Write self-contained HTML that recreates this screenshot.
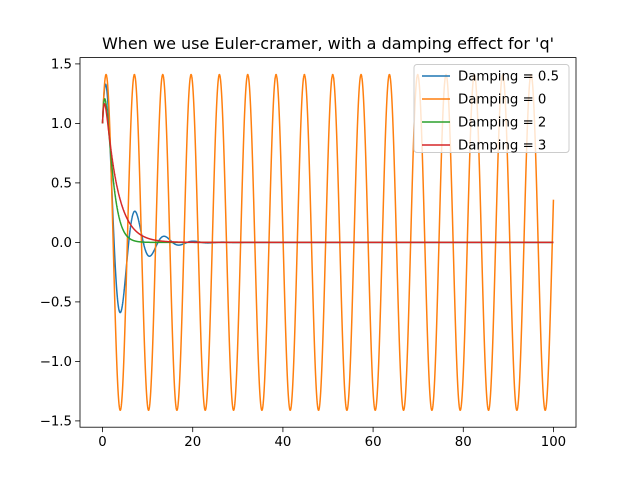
<!DOCTYPE html>
<html><head><meta charset="utf-8"><style>
body{margin:0;background:#fff}
svg{display:block;font-family:"DejaVu Sans","Liberation Sans",sans-serif}
</style></head><body>
<svg id="chart" width="640" height="480" viewBox="0 0 640 480">
<rect x="0" y="0" width="640" height="480" fill="#fff"/>
<text x="328" y="49" text-anchor="middle" font-size="16">When we use Euler-cramer, with a damping effect for 'q'</text>
<g id="series"></g>
<g id="axes"></g>
<rect x="80" y="57.6" width="496" height="369.6" fill="none" stroke="#000" stroke-width="0.8"/>
<g id="legend"></g>
</svg>
<script>
// data (series parameters of the Euler-Cromer simulation)
const dampings = [0.5, 0, 2, 3];
const seriesLabels = ["Damping = 0.5", "Damping = 0", "Damping = 2", "Damping = 3"];
const colors = ["#1f77b4", "#ff7f0e", "#2ca02c", "#d62728"];
const q0 = 1, v0 = 1, dt = 0.01, tEnd = 100;
const xTicks = [0, 20, 40, 60, 80, 100];
const yTicks = [-1.5, -1.0, -0.5, 0.0, 0.5, 1.0, 1.5];
const yTickLabels = ["\u22121.5", "\u22121.0", "\u22120.5", "0.0", "0.5", "1.0", "1.5"];

const NS = "http://www.w3.org/2000/svg";
const L = 80, R = 576, T = 57.6, B = 427.2;
const xMin = -5, xMax = 105, yMin = -1.553, yMax = 1.553;
const xs = v => L + (v - xMin) / (xMax - xMin) * (R - L);
const ys = v => B - (v - yMin) / (yMax - yMin) * (B - T);
function mk(tag, attrs, parent) { const e = document.createElementNS(NS, tag); for (const k in attrs) e.setAttribute(k, attrs[k]); parent.appendChild(e); return e; }

const sg = document.getElementById("series");
dampings.forEach((b, i) => {
  let q = q0, v = v0, t = 0;
  let d = "M" + xs(t).toFixed(2) + "," + ys(q).toFixed(2);
  const n = Math.round(tEnd / dt);
  for (let k = 0; k < n; k++) {
    v += (-q - b * v) * dt;
    q += v * dt;
    t += dt;
    d += "L" + xs(t).toFixed(2) + "," + ys(q).toFixed(2);
  }
  const p = mk("path", { d: d, fill: "none", stroke: colors[i], "stroke-width": 1.5, "stroke-linejoin": "round" }, sg);
  
  
});

const ag = document.getElementById("axes");
xTicks.forEach(v => {
  const g = mk("g", {}, ag);
  
  
  mk("line", { x1: xs(v), x2: xs(v), y1: B, y2: B + 4.9, stroke: "#000", "stroke-width": 0.8 }, g);
  const t = mk("text", { x: xs(v), y: B + 19, "text-anchor": "middle", "font-size": 13.3 }, g);
  t.textContent = v;
});
yTicks.forEach((v, i) => {
  const g = mk("g", {}, ag);
  
  
  mk("line", { x1: L - 4.9, x2: L, y1: ys(v), y2: ys(v), stroke: "#000", "stroke-width": 0.8 }, g);
  const t = mk("text", { x: L - 8, y: ys(v) + 4.8, "text-anchor": "end", "font-size": 13.3 }, g);
  t.textContent = yTickLabels[i];
});

const lg = document.getElementById("legend");
mk("rect", { x: 414, y: 64.5, width: 155, height: 88, rx: 3, fill: "#fff", "fill-opacity": 0.8, stroke: "#ccc", "stroke-width": 1 }, lg);
seriesLabels.forEach((s, i) => {
  const g = mk("g", {}, lg);
  
  
  const y = 76 + i * 23;
  mk("line", { x1: 422, x2: 450, y1: y, y2: y, stroke: colors[i], "stroke-width": 1.5 }, g);
  const t = mk("text", { x: 458, y: y + 4.7, "font-size": 13.3 }, g);
  t.textContent = s;
});
</script>
</body></html>
